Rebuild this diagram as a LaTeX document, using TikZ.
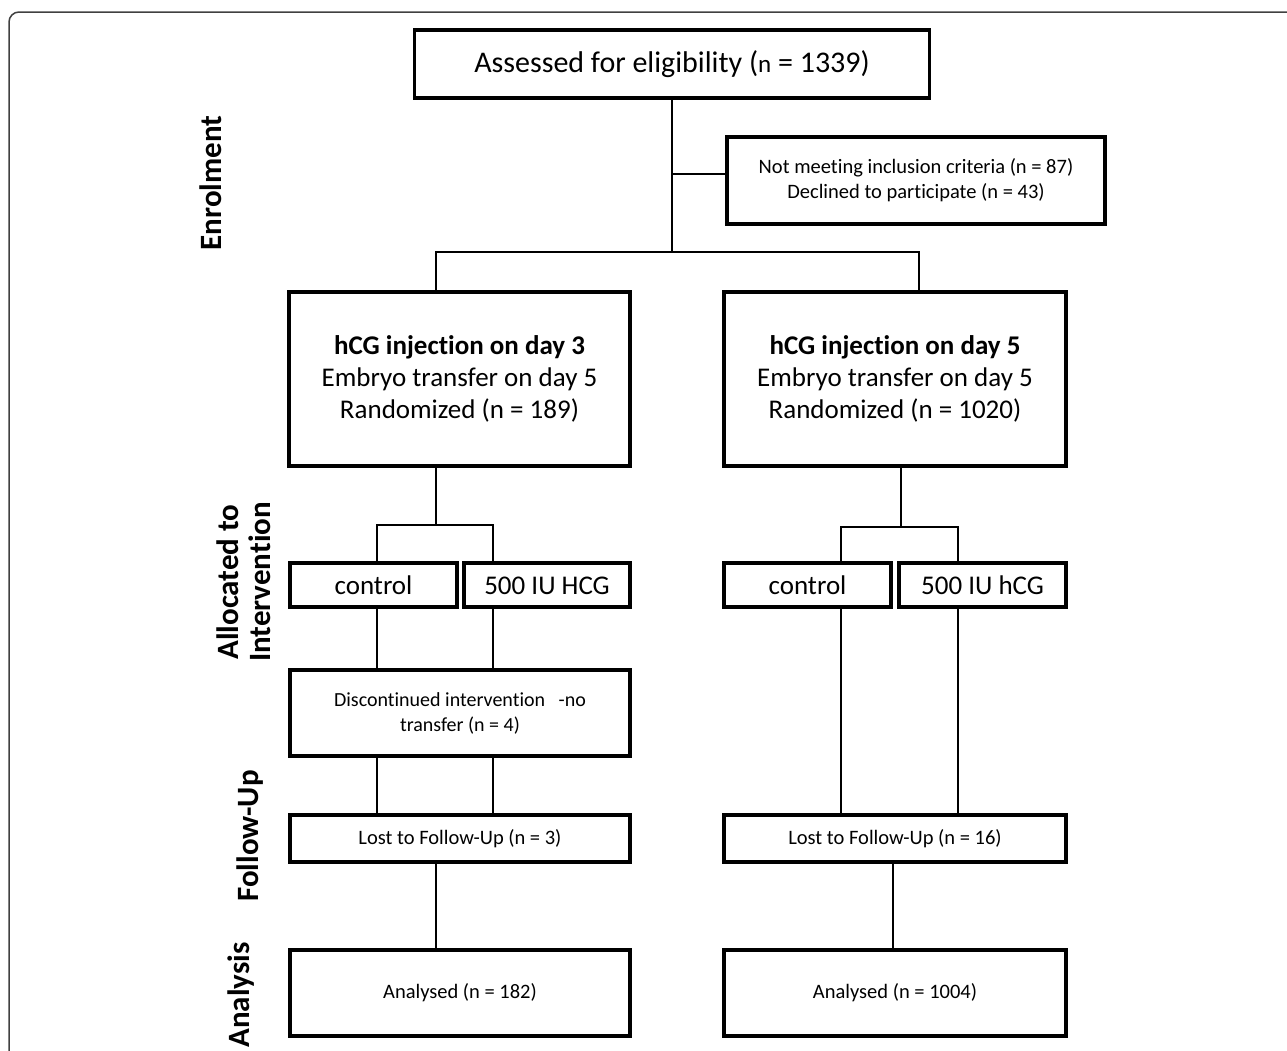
\documentclass[tikz,border=0pt]{standalone}
\usepackage{fontspec}
\setmainfont{Carlito}[Ligatures=NoCommon]
\usetikzlibrary{positioning}

\begin{document}
\begin{tikzpicture}[x=1pt, y=-1pt,
    box/.style={draw, line width=3.5pt, align=center, inner sep=0pt},
    arm/.style={box, minimum height=44, text height=18, text depth=0, font=\fontsize{27}{30}\selectfont},
    link/.style={draw, line width=2.5pt},
    phase/.style={rotate=90, align=center, font=\fontsize{31}{32}\selectfont\bfseries}]
      \useasboundingbox (0,0) rectangle (1287,1050);
      \draw[line width=1.5pt, black!75, rounded corners=10pt] (9,1060) -- (9,12) -- (1300,12);

      % phases
      \node[phase]  (Enr)  at (211, 183)  {Enrolment};
      \node[phase]  (All)  at (244, 582)  {Allocated to\\Intervention};
      \node[phase]  (Fol)  at (250, 836)  {Follow-Up};
      \node[phase]  (Ana)  at (241, 995)  {Analysis};

      % boxes
      \node[box, minimum width=515, minimum height=68, font=\fontsize{30}{34}\selectfont]   (Ass)   at (672, 64)     {Assessed for eligibility ({\fontsize{25}{30}\selectfont n} = 1339)};
      \node[box, minimum width=378, minimum height=87, font=\fontsize{20.5}{25}\selectfont] (Exc)   at (916, 180.5)  {Not meeting inclusion criteria (n = 87)\\Declined to participate (n = 43)};

      \node[box, minimum width=341, minimum height=174, font=\fontsize{27}{32}\selectfont]  (HL)    at (459.5, 379)  {\textbf{hCG injection on day 3}\\Embryo transfer on day 5\\Randomized (n = 189)};
      \node[box, minimum width=342, minimum height=174, font=\fontsize{27}{32}\selectfont]  (HR)    at (895, 379)    {\textbf{hCG injection on day 5}\\Embryo transfer on day 5\\Randomized (n = 1020)};

      \node[arm, minimum width=167]   (CL)    at (373.5, 585)  {control};
      \node[arm, minimum width=166]   (DL)    at (547, 585)    {500 IU HCG};
      \node[arm, minimum width=167]   (CR)    at (807.5, 585)  {control};
      \node[arm, minimum width=167]   (DR)    at (982.5, 585)  {500 IU hCG};

      \node[box, minimum width=340, minimum height=86, font=\fontsize{20}{25}\selectfont]   (Dis)   at (460, 713)    {Discontinued intervention~~ -no\\transfer (n = 4)};

      \node[box, minimum width=340, minimum height=47, font=\fontsize{20.5}{24}\selectfont] (LL)    at (460, 838.5)  {Lost to Follow-Up (n = 3)};
      \node[box, minimum width=342, minimum height=47, font=\fontsize{20.5}{24}\selectfont] (LR)    at (895, 838.5)  {Lost to Follow-Up (n = 16)};

      \node[box, minimum width=340, minimum height=86, font=\fontsize{20.5}{24}\selectfont] (AL)    at (460, 993)    {Analysed (n = 182)};
      \node[box, minimum width=342, minimum height=86, font=\fontsize{20.5}{24}\selectfont] (AR)    at (895, 993)    {Analysed (n = 1004)};

      % branch points
      \coordinate (E)   at (672, 174);
      \coordinate (S)   at (672, 252);
      \coordinate (SL)  at (436, 252);
      \coordinate (SR)  at (919, 252);
      \coordinate (TL)  at (436, 525);
      \coordinate (TLa) at (377, 525);
      \coordinate (TLb) at (493, 525);
      \coordinate (TR)  at (901, 527);
      \coordinate (TRa) at (841, 527);
      \coordinate (TRb) at (958, 527);
      \coordinate (UR)  at (893, 900);

      \draw[link] (Ass.south) -- (S);
      \draw[link] (E) -- (E -| Exc.west);
      \draw[link] (SL |- HL.north) -- (SL) -- (SR) -- (SR |- HR.north);

      \draw[link] (TL |- HL.south) -- (TL);
      \draw[link] (TLa |- CL.north) -- (TLa) -- (TLb) -- (TLb |- DL.north);
      \draw[link] (TLa |- CL.south) -- (TLa |- Dis.north);
      \draw[link] (TLb |- DL.south) -- (TLb |- Dis.north);
      \draw[link] (TLa |- Dis.south) -- (TLa |- LL.north);
      \draw[link] (TLb |- Dis.south) -- (TLb |- LL.north);
      \draw[link] (TL |- LL.south) -- (TL |- AL.north);

      \draw[link] (TR |- HR.south) -- (TR);
      \draw[link] (TRa |- CR.north) -- (TRa) -- (TRb) -- (TRb |- DR.north);
      \draw[link] (TRa |- CR.south) -- (TRa |- LR.north);
      \draw[link] (TRb |- DR.south) -- (TRb |- LR.north);
      \draw[link] (UR |- LR.south) -- (UR |- AR.north);
\end{tikzpicture}
\end{document}
